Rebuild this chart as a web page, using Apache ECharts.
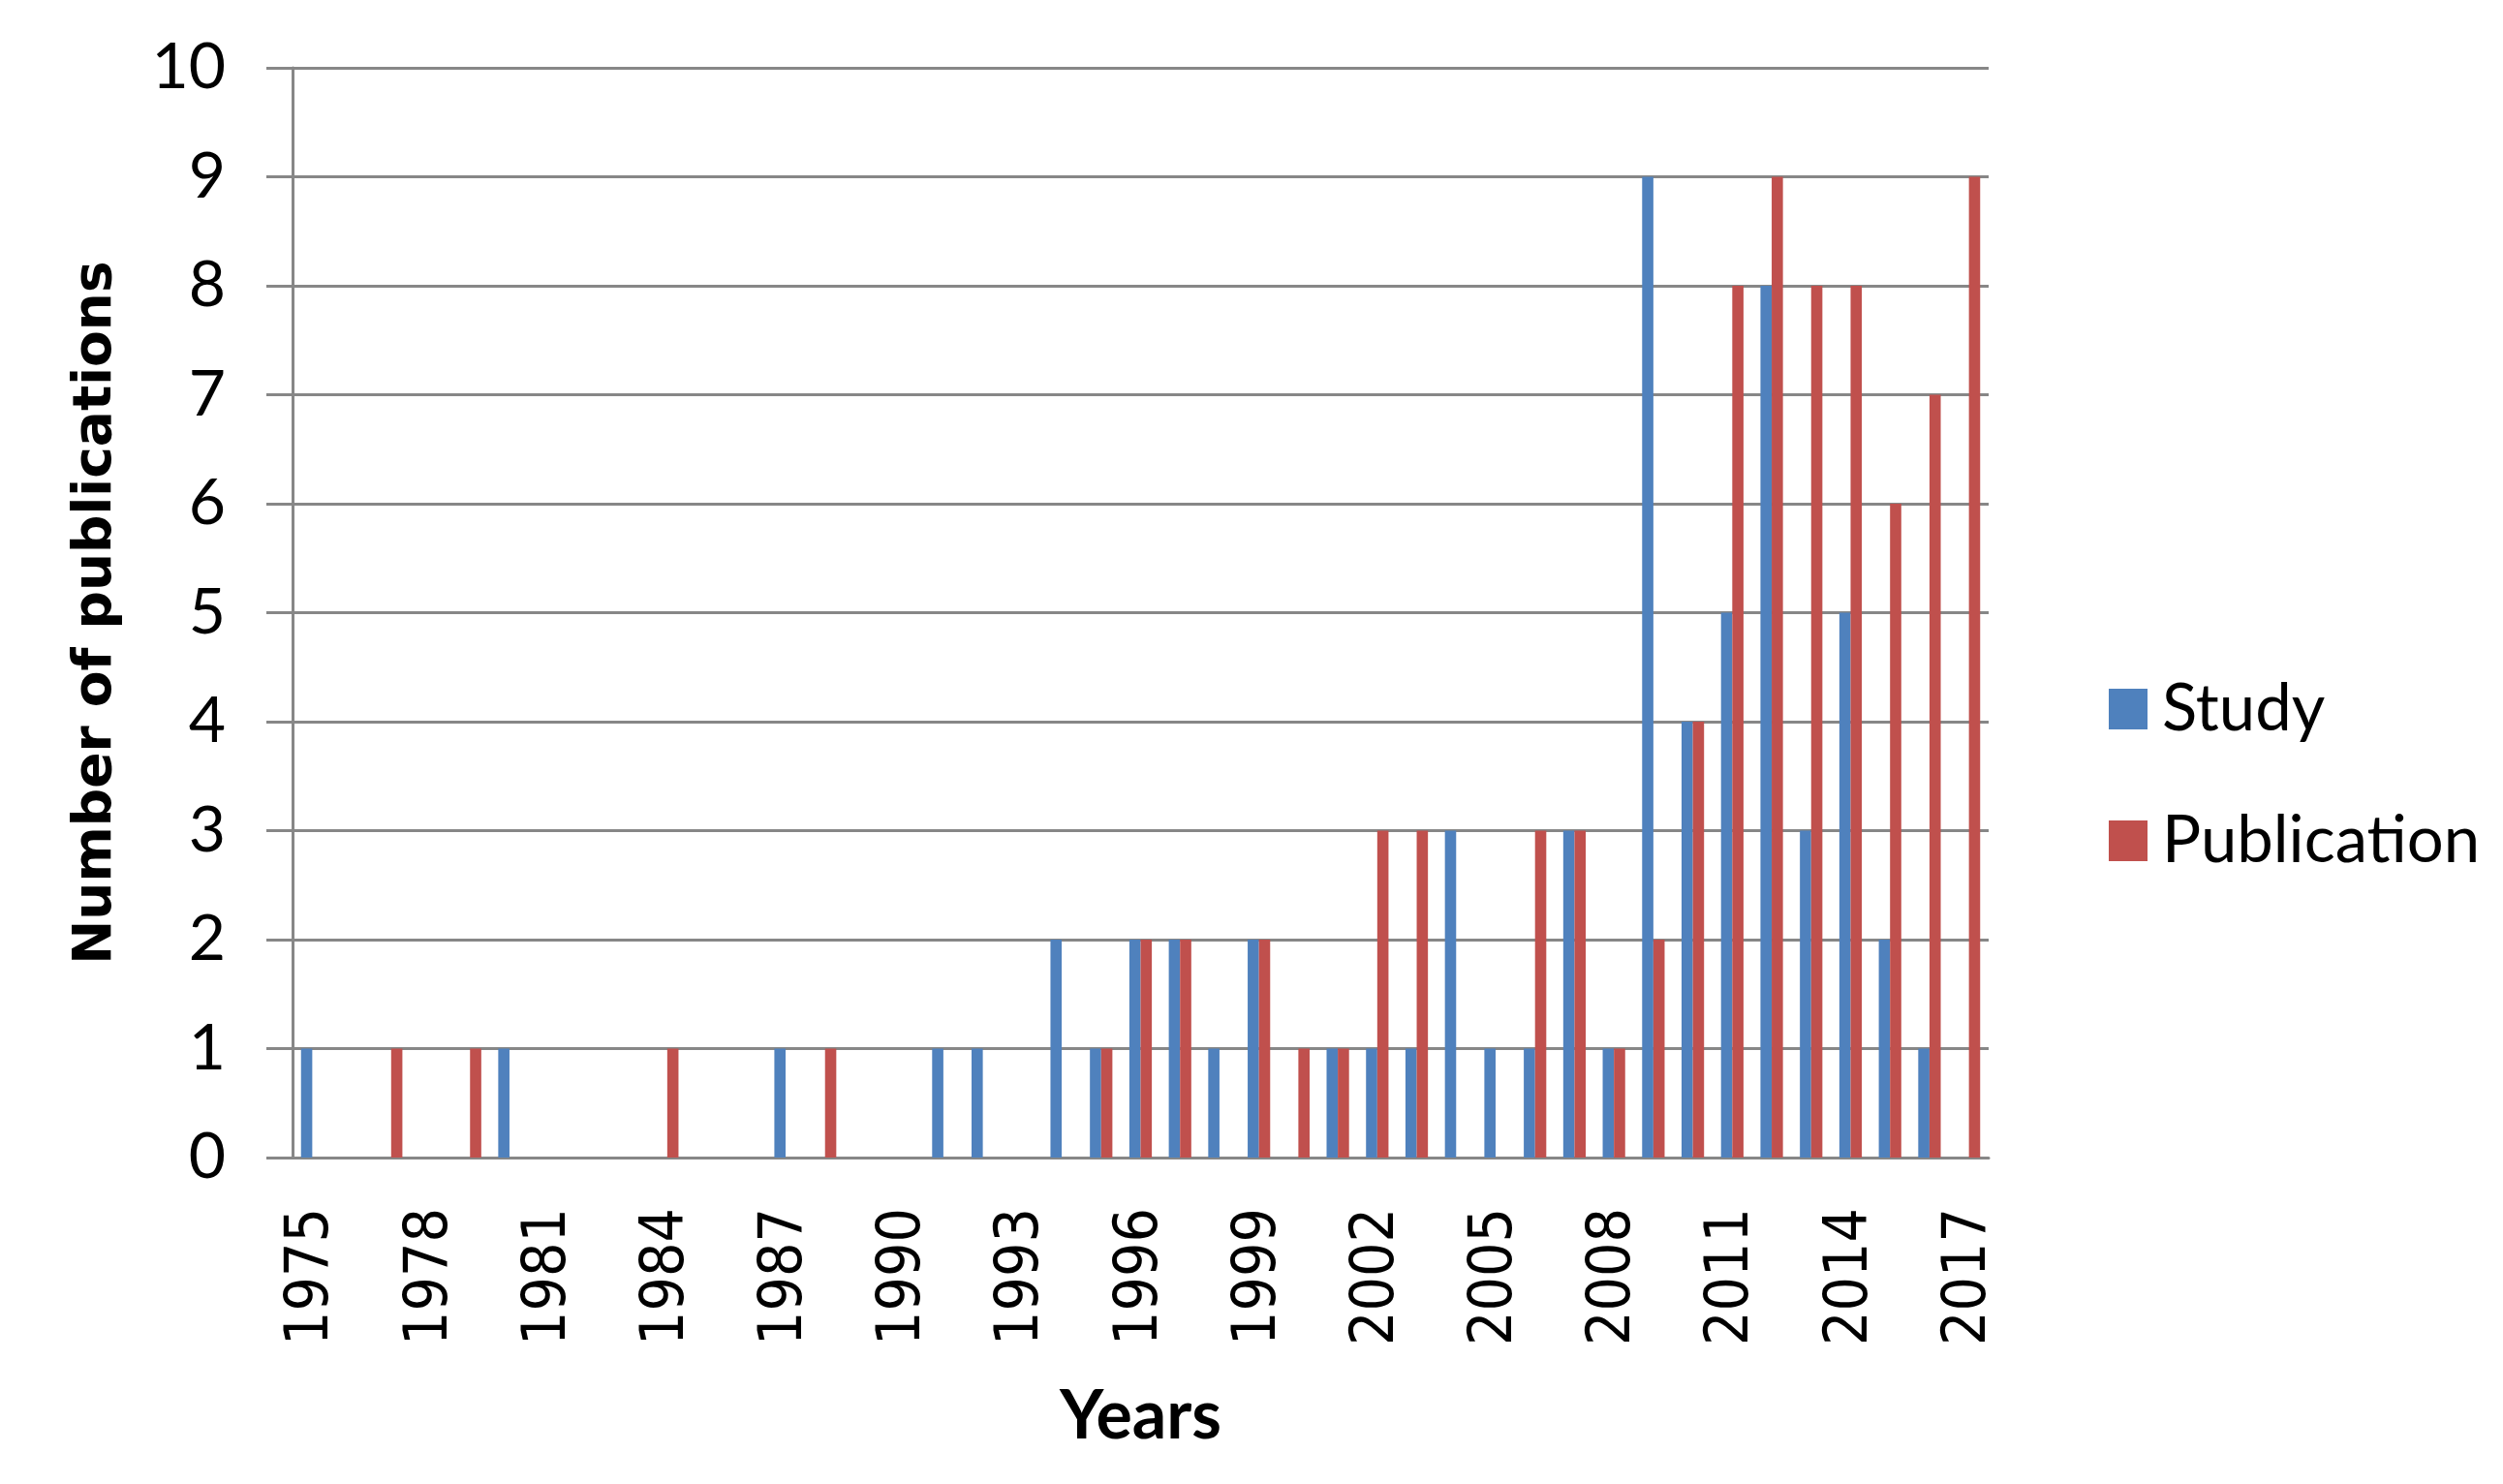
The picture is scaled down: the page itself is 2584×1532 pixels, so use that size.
<!DOCTYPE html>
<html>
<head>
<meta charset="utf-8">
<script src="https://cdn.jsdelivr.net/npm/echarts@6/dist/echarts.min.js"></script>
<style>
html, body { margin: 0; padding: 0; background: #ffffff; }
#main-chart { width: 2584px; height: 1532px; }
</style>
</head>
<body>
<div id="main-chart"></div>
<script>
var years = ['1975', '1976', '1977', '1978', '1979', '1980', '1981', '1982', '1983', '1984',
    '1985', '1986', '1987', '1988', '1989', '1990', '1991', '1992', '1993', '1994',
    '1995', '1996', '1997', '1998', '1999', '2000', '2001', '2002', '2003', '2004',
    '2005', '2006', '2007', '2008', '2009', '2010', '2011', '2012', '2013', '2014',
    '2015', '2016', '2017'];
var study = [1, 0, 0, 0, 0, 1, 0, 0, 0, 0,
    0, 0, 1, 0, 0, 0, 1, 1, 0, 2,
    1, 2, 2, 1, 2, 0, 1, 1, 1, 3,
    1, 1, 3, 1, 9, 4, 5, 8, 3, 5,
    2, 1, 0];
var publication = [0, 0, 1, 0, 1, 0, 0, 0, 0, 1,
    0, 0, 0, 1, 0, 0, 0, 0, 0, 0,
    1, 2, 2, 0, 2, 1, 1, 3, 3, 0,
    0, 3, 3, 1, 2, 4, 8, 9, 8, 8,
    6, 7, 9];
var yTicks = ['0', '1', '2', '3', '4', '5', '6', '7', '8', '9', '10'];

var gridColor = '#878787';
var myChart = echarts.init(document.getElementById('main-chart'));
var option = {
    backgroundColor: '#ffffff',
    animation: false,
    grid: {
        left: 302,
        right: 531,
        top: 70,
        bottom: 337
    },
    legend: {
        orient: 'vertical',
        left: 2172,
        top: 692,
        icon: 'rect',
        itemWidth: 40,
        itemHeight: 42,
        itemGap: 66,
        textStyle: {
            fontFamily: 'Lato',
            fontSize: 67,
            lineHeight: 70,
            color: '#000000',
            padding: [0, 0, 0, 10]
        },
        data: ['Study', 'Publication']
    },
    xAxis: {
        type: 'category',
        data: years,
        name: 'Years',
        nameLocation: 'middle',
        nameGap: 232,
        nameTextStyle: {
            fontFamily: 'Lato',
            fontWeight: 'bold',
            fontSize: 70,
            color: '#000000'
        },
        axisLine: { lineStyle: { color: gridColor, width: 3 } },
        axisTick: { show: false },
        axisLabel: {
            interval: 2,
            rotate: 90,
            margin: 52,
            fontFamily: 'DejaVu Sans Condensed',
            fontSize: 62,
            color: '#000000'
        }
    },
    yAxis: {
        type: 'value',
        min: 0,
        max: 10,
        interval: 1,
        name: 'Number of publications',
        nameLocation: 'middle',
        nameGap: 175,
        nameTextStyle: {
            fontFamily: 'DejaVu Sans',
            fontWeight: 'bold',
            fontSize: 55,
            color: '#000000'
        },
        axisLine: { show: true, lineStyle: { color: gridColor, width: 3 } },
        axisTick: { show: true, length: 27, lineStyle: { color: gridColor, width: 3 } },
        splitLine: { lineStyle: { color: gridColor, width: 3 } },
        axisLabel: {
            margin: 69,
            fontFamily: 'Lato',
            fontSize: 66,
            color: '#000000',
            formatter: function (v) { return yTicks[v]; }
        }
    },
    series: [{
        name: 'Study',
        type: 'bar',
        data: study,
        barGap: '0%',
        barCategoryGap: '43%',
        itemStyle: { color: '#4F81BD' }
    }, {
        name: 'Publication',
        type: 'bar',
        data: publication,
        barGap: '0%',
        barCategoryGap: '43%',
        itemStyle: { color: '#C0504D' }
    }]
};
myChart.setOption(option);
</script>
</body>
</html>
